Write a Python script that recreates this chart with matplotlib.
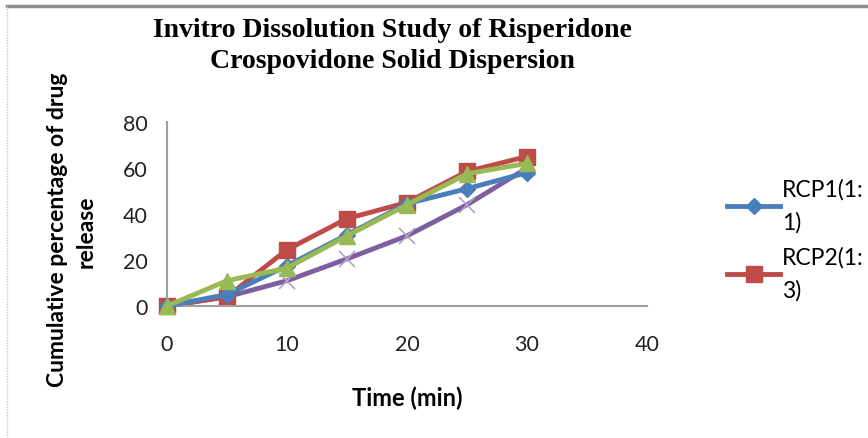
import matplotlib
matplotlib.use("Agg")
import matplotlib.pyplot as plt
from matplotlib.lines import Line2D

# time points (min) and cumulative release (%)
time_min = [0, 5, 10, 15, 20, 25, 30]
rcp1 = [0, 5, 17.5, 31, 44.5, 51, 58]
rcp2 = [0, 4, 24.5, 38, 45, 58.5, 65]
rcp3 = [0, 11, 16.5, 30.5, 44, 57.5, 62]
rcp4 = [0, 4, 11, 20.5, 30.5, 44, 60]

legend_labels = ["RCP1(1:\n1)", "RCP2(1:\n3)"]

plt.rcParams['font.family'] = ['Lato', 'DejaVu Sans']

fig = plt.figure(figsize=(8.68, 4.39), dpi=100)
W, H = 868, 439
ax = fig.add_axes([167 / W, (H - 307) / H, 480 / W, 184 / H])

ax.plot(time_min, rcp1, color='#4A7EBB', lw=3.5, marker='D', ms=8, zorder=3)
ax.plot(time_min, rcp2, color='#BE4B48', lw=3.5, marker='s', ms=12, zorder=2)
ax.plot(time_min, rcp3, color='#98B954', lw=3.5, marker='^', ms=12, zorder=4)
ax.plot(time_min, rcp4, color='#7D5FA0', lw=3.5, marker='x', ms=12, mew=1.2,
        mec='#B3A2C7', zorder=1)

ax.set_xlim(0, 40)
ax.set_ylim(0, 80)
ax.set_xticks([0, 10, 20, 30, 40])
ax.set_yticks([0, 20, 40, 60, 80])
for s in ['top', 'right']:
    ax.spines[s].set_visible(False)
for s in ['left', 'bottom']:
    ax.spines[s].set_color('#A0A0A0')
    ax.spines[s].set_linewidth(1.5)
ax.tick_params(axis='x', length=0, pad=20, labelsize=15.5, colors='#222222')
ax.tick_params(axis='y', length=0, pad=14, labelsize=15.5, colors='#222222')
for ln in ax.lines:
    ln.set_clip_on(False)

fig.text(392 / W, 1 - 46 / H, "Invitro Dissolution Study of Risperidone\nCrospovidone Solid Dispersion",
         ha='center', va='center', fontsize=20, fontweight='bold',
         family='Liberation Serif', linespacing=1.3)
# y axis title, two lines
fig.text(58 / W, 1 - 230 / H, "Cumulative percentage of drug", rotation=90,
         ha='center', va='center', fontsize=16.5, fontweight='bold')
fig.text(86 / W, 1 - 232 / H, "release", rotation=90,
         ha='center', va='center', fontsize=16.5, fontweight='bold')
fig.text(407 / W, 1 - 398 / H, "Time (min)", ha='center', va='center',
         fontsize=17, fontweight='bold')

handles = [ax.lines[0], ax.lines[1]]
leg = fig.legend(handles, legend_labels, loc='upper left', bbox_to_anchor=(718 / W, 1 - 170 / H),
                 frameon=False, fontsize=16.5, handlelength=2.3, handletextpad=0.1,
                 labelspacing=0.57, borderaxespad=0)
for t in leg.get_texts():
    t.set_linespacing(1.67)

# outer chart border
fig.add_artist(Line2D([7 / W, 1], [1 - 7 / H, 1 - 7 / H], transform=fig.transFigure,
                      color='#8C8C8C', lw=2.5))
fig.add_artist(Line2D([7 / W, 7 / W], [0, 1 - 7 / H], transform=fig.transFigure,
                      color='#C8C8C8', lw=1, ls=(0, (1, 1))))

fig.savefig("out.png", dpi=100)
